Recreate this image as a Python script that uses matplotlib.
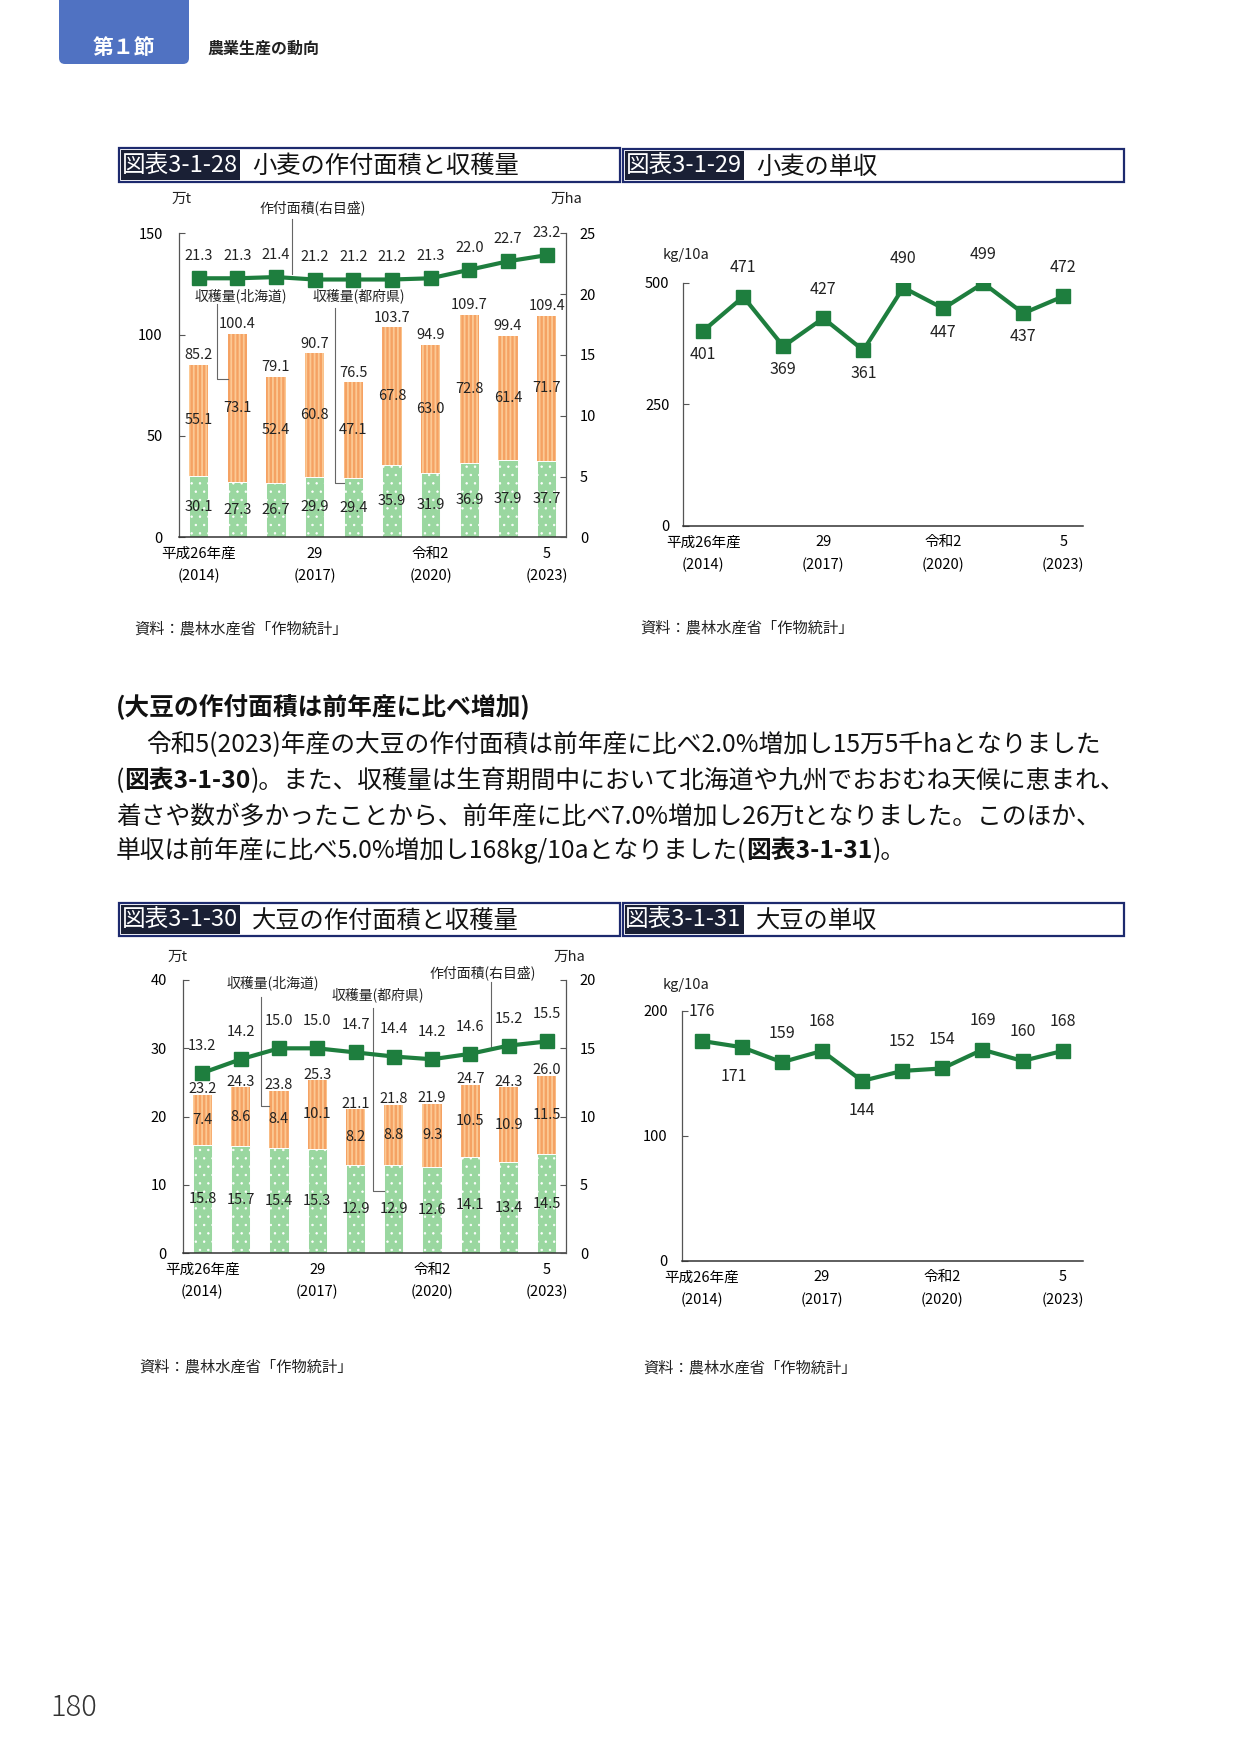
import matplotlib
matplotlib.use("Agg")
import matplotlib.pyplot as plt
from matplotlib.patches import Rectangle, FancyBboxPatch
from matplotlib.transforms import IdentityTransform

plt.rcParams['font.family'] = ['Noto Sans CJK JP', 'DejaVu Sans']
plt.rcParams['hatch.linewidth'] = 1.2
plt.rcParams['text.color'] = '#222222'

# ---- data ----
x_pos = list(range(10))
year_ticks = [0, 3, 6, 9]
year_labels = ["平成26年産\n(2014)", "29\n(2017)", "令和2\n(2020)", "5\n(2023)"]

# 小麦 (万t, 万ha, kg/10a)
wheat_pref = [30.1, 27.3, 26.7, 29.9, 29.4, 35.9, 31.9, 36.9, 37.9, 37.7]
wheat_hok = [55.1, 73.1, 52.4, 60.8, 47.1, 67.8, 63.0, 72.8, 61.4, 71.7]
wheat_total = [85.2, 100.4, 79.1, 90.7, 76.5, 103.7, 94.9, 109.7, 99.4, 109.4]
wheat_area = [21.3, 21.3, 21.4, 21.2, 21.2, 21.2, 21.3, 22.0, 22.7, 23.2]
wheat_yield = [401, 471, 369, 427, 361, 490, 447, 499, 437, 472]
wheat_yield_below = [0, 2, 4, 6, 8]

# 大豆
soy_pref = [15.8, 15.7, 15.4, 15.3, 12.9, 12.9, 12.6, 14.1, 13.4, 14.5]
soy_hok = [7.4, 8.6, 8.4, 10.1, 8.2, 8.8, 9.3, 10.5, 10.9, 11.5]
soy_total = [23.2, 24.3, 23.8, 25.3, 21.1, 21.8, 21.9, 24.7, 24.3, 26.0]
soy_area = [13.2, 14.2, 15.0, 15.0, 14.7, 14.4, 14.2, 14.6, 15.2, 15.5]
soy_yield = [176, 171, 159, 168, 144, 152, 154, 169, 160, 168]
soy_yield_below = [1, 4]

GREEN_LINE = '#1e7e3e'
GREEN_BAR = '#9ad7a0'
ORANGE_BAR = '#f5a263'
ORANGE_STRIPE = '#fcc994'
NAVY = '#1d2a6e'
DARK = '#1a2035'
SOURCE = "資料：農林水産省「作物統計」"
FS = 10.5

W, H = 1241, 1754
fig = plt.figure(figsize=(W / 100, H / 100), dpi=100)


def ftext(x, y, s, **kw):
    return fig.text(x / W, 1 - y / H, s, **kw)


def px_axes(l, t, r, b):
    return fig.add_axes([l / W, 1 - b / H, (r - l) / W, (b - t) / H])


def title_box(l, t, r, b, label_r, label, title):
    fig.add_artist(Rectangle((l / W, 1 - b / H), (r - l) / W, (b - t) / H,
                             transform=fig.transFigure, facecolor='white',
                             edgecolor=NAVY, linewidth=1.6))
    fig.add_artist(Rectangle(((l + 2) / W, 1 - (b - 2) / H), (label_r - l - 2) / W,
                             (b - t - 4) / H, transform=fig.transFigure,
                             facecolor=DARK, edgecolor='none'))
    ftext((l + label_r) / 2, (t + b) / 2 + 1, label, color='white', fontsize=17,
          ha='center', va='center')
    ftext(label_r + 12, (t + b) / 2 + 1, title, color='#111111', fontsize=17.5,
          ha='left', va='center')


def style_axis(ax, left_pad):
    ax.spines['top'].set_visible(False)
    ax.spines['right'].set_visible(False)
    ax.spines['left'].set_color('#555555')
    ax.spines['left'].set_linewidth(0.9)
    ax.spines['bottom'].set_color('#333333')
    ax.spines['bottom'].set_linewidth(1.1)
    ax.tick_params(axis='y', direction='in', length=4, width=0.8, color='#555555',
                   labelsize=FS, pad=left_pad)
    ax.tick_params(axis='x', length=0, labelsize=FS, pad=7)
    ax.set_xlim(-0.5, 9.5)
    ax.set_xticks(year_ticks, year_labels)
    for lbl in ax.get_xticklabels():
        lbl.set_linespacing(1.7)


def bar_chart(ax, pref, hok, total, area, ylim, yticks, y2lim, y2ticks,
              total_off, line_off):
    style_axis(ax, 12)
    with plt.rc_context({'hatch.linewidth': 0.5}):
        ax.bar(x_pos, pref, width=0.5, color=GREEN_BAR, edgecolor='white',
               linewidth=0.7, hatch='..', zorder=2)
    with plt.rc_context({'hatch.linewidth': 1.3}):
        ax.bar(x_pos, hok, bottom=pref, width=0.5, color=ORANGE_BAR,
               edgecolor=ORANGE_STRIPE, linewidth=0, hatch='||||', zorder=2)
    ax.set_ylim(*ylim)
    ax.set_yticks(yticks)
    for i in x_pos:
        ax.text(i, pref[i] / 2, f"{pref[i]:.1f}", ha='center', va='center',
                fontsize=FS, zorder=3)
        ax.text(i, pref[i] + hok[i] / 2, f"{hok[i]:.1f}", ha='center',
                va='center', fontsize=FS, zorder=3)
        ax.annotate(f"{total[i]:.1f}", (i, total[i]), xytext=(0, total_off),
                    textcoords='offset points', ha='center', va='baseline',
                    fontsize=FS)
    ax2 = ax.twinx()
    ax2.plot(x_pos, area, color=GREEN_LINE, linewidth=3, marker='s',
             markersize=9.5, zorder=4)
    ax2.set_ylim(*y2lim)
    ax2.set_yticks(y2ticks)
    for side in ['top', 'left', 'bottom']:
        ax2.spines[side].set_visible(False)
    ax2.spines['right'].set_color('#555555')
    ax2.spines['right'].set_linewidth(0.9)
    ax2.tick_params(axis='y', direction='in', length=4, width=0.8,
                    color='#555555', labelsize=FS, pad=10)
    for i in x_pos:
        ax2.annotate(f"{area[i]:.1f}", (i, area[i]), xytext=(0, line_off),
                     textcoords='offset points', ha='center', va='center',
                     fontsize=FS)
    return ax2


def leader(ax, pts):
    xs, ys = zip(*pts)
    ax.plot(xs, ys, color='#666666', linewidth=0.8, clip_on=False, zorder=5)


def line_chart(ax, vals, below, ylim, yticks, up_off, down_off, shift=None):
    style_axis(ax, 10)
    ax.plot(x_pos, vals, color=GREEN_LINE, linewidth=3, marker='s',
            markersize=9.5)
    ax.set_ylim(*ylim)
    ax.set_yticks(yticks)
    for i in x_pos:
        dy = -down_off if i in below else up_off
        dx = shift.get(i, 0) if shift else 0
        ax.annotate(str(vals[i]), (i, vals[i]), xytext=(dx, dy),
                    textcoords='offset points', ha='center', va='center',
                    fontsize=11.5)


# ---- page header ----
fig.add_artist(FancyBboxPatch((59, H - 64), 130, 90,
                              boxstyle='round,pad=0,rounding_size=6',
                              transform=IdentityTransform(),
                              facecolor='#5072c2', edgecolor='none'))
ftext(124, 48, "第１節", color='white', fontsize=15, weight='bold',
      ha='center', va='center')
ftext(207, 49, "農業生産の動向", color='#222222', fontsize=11.5, weight='bold',
      ha='left', va='center')

# ---- 図表3-1-28 ----
title_box(119, 148, 620, 182, 240, "図表3-1-28", "小麦の作付面積と収穫量")
ax1 = px_axes(179.3, 233.3, 566, 537.3)
bar_chart(ax1, wheat_pref, wheat_hok, wheat_total, wheat_area,
          (0, 150), [0, 50, 100, 150], (0, 25), [0, 5, 10, 15, 20, 25], 4, 16)
ax1.text(2.94, 162.5, "作付面積(右目盛)", ha='center', va='center', fontsize=10)
leader(ax1, [(2.42, 157), (2.42, 130)])
ax1.text(1.08, 119, "収穫量(北海道)", ha='center', va='center', fontsize=10)
leader(ax1, [(0.48, 115), (0.48, 78), (0.75, 78)])
ax1.text(4.15, 119, "収穫量(都府県)", ha='center', va='center', fontsize=10)
leader(ax1, [(3.53, 113), (3.53, 27), (3.75, 27)])
ftext(182, 199, "万t", ha='center', va='center', fontsize=FS)
ftext(566, 199, "万ha", ha='center', va='center', fontsize=FS)
ftext(134, 629, SOURCE, ha='left', va='center', fontsize=11)

# ---- 図表3-1-29 ----
title_box(623, 149, 1124, 182, 744, "図表3-1-29", "小麦の単収")
ax2 = px_axes(683.3, 282.7, 1083.3, 525.7)
line_chart(ax2, wheat_yield, wheat_yield_below, (0, 500), [0, 250, 500], 21, 17)
ftext(663, 255, "kg/10a", ha='left', va='center', fontsize=FS)
ftext(640, 628, SOURCE, ha='left', va='center', fontsize=11)

# ---- body text ----
BODY = 17.8
renderer = fig.canvas.get_renderer()


def rich_line(x, y, parts):
    for s, weight in parts:
        t = ftext(x, y, s, fontsize=BODY, weight=weight, ha='left', va='center',
                  color='#111111')
        x += t.get_window_extent(renderer).width


rich_line(116, 707, [("(大豆の作付面積は前年産に比べ増加)", 'bold')])
rich_line(146, 745, [("令和5(2023)年産の大豆の作付面積は前年産に比べ2.0%増加し15万5千haとなりました", 'normal')])
rich_line(116, 781, [("(", 'normal'), ("図表3-1-30", 'bold'),
                     (")。また、収穫量は生育期間中において北海道や九州でおおむね天候に恵まれ、", 'normal')])
rich_line(116, 816, [("着さや数が多かったことから、前年産に比べ7.0%増加し26万tとなりました。このほか、", 'normal')])
rich_line(116, 851, [("単収は前年産に比べ5.0%増加し168kg/10aとなりました(", 'normal'),
                     ("図表3-1-31", 'bold'), (")。", 'normal')])

# ---- 図表3-1-30 ----
title_box(119, 903, 620, 936, 240, "図表3-1-30", "大豆の作付面積と収穫量")
ax3 = px_axes(183.3, 980, 566, 1253.3)
bar_chart(ax3, soy_pref, soy_hok, soy_total, soy_area,
          (0, 40), [0, 10, 20, 30, 40], (0, 20), [0, 5, 10, 15, 20], 1, 19.5)
ax3.text(7.33, 41.0, "作付面積(右目盛)", ha='center', va='center', fontsize=10)
leader(ax3, [(7.53, 39.7), (7.53, 30.2)])
ax3.text(1.83, 39.6, "収穫量(北海道)", ha='center', va='center', fontsize=10)
leader(ax3, [(1.52, 37.5), (1.52, 21.6), (1.75, 21.6)])
ax3.text(4.57, 37.8, "収穫量(都府県)", ha='center', va='center', fontsize=10)
leader(ax3, [(4.46, 35.9), (4.46, 9.1), (4.75, 9.1)])
ftext(178, 957, "万t", ha='center', va='center', fontsize=FS)
ftext(569, 957, "万ha", ha='center', va='center', fontsize=FS)
ftext(139, 1367, SOURCE, ha='left', va='center', fontsize=11)

# ---- 図表3-1-31 ----
title_box(623, 903, 1124, 936, 744, "図表3-1-31", "大豆の単収")
ax4 = px_axes(681.7, 1011, 1082.7, 1260.7)
line_chart(ax4, soy_yield, soy_yield_below, (0, 200), [0, 100, 200], 21, 21,
           shift={1: -6})
ftext(663, 985, "kg/10a", ha='left', va='center', fontsize=FS)
ftext(643, 1368, SOURCE, ha='left', va='center', fontsize=11)

# page number
ftext(50, 1708, "180", ha='left', va='center', fontsize=21, weight='light',
      color='#333333')

plt.savefig("out.png", dpi=100)
